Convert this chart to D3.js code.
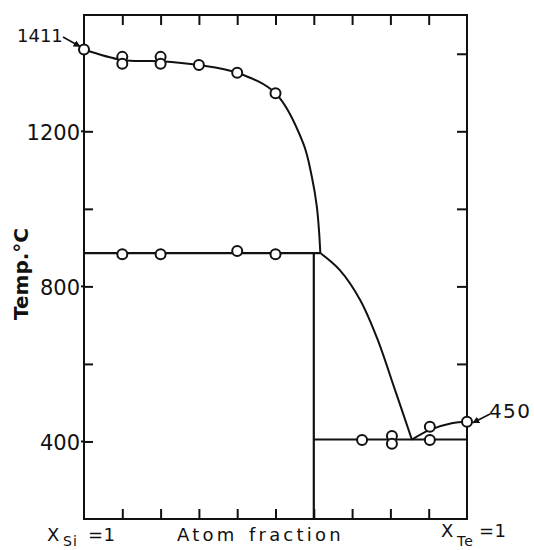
<!DOCTYPE html>
<html>
<head>
<meta charset="utf-8">
<script src="https://cdn.jsdelivr.net/npm/d3@7"></script>
<style>
  html, body { margin: 0; padding: 0; background: #fff; }
  svg { display: block; }
  text { font-family: "DejaVu Sans", sans-serif; fill: #111; }
</style>
</head>
<body>
<svg id="chart" width="534" height="550"></svg>
<script>
// Si–Te phase diagram, x = atom fraction Te, T in °C

// liquidus, Si-rich side (down to the peritectic point)
const siLiquidusX = [0, 0.1, 0.2, 0.3, 0.4, 0.5, 0.572, 0.595, 0.608, 0.614, 0.617];
const siLiquidusT = [1411, 1384, 1381, 1371, 1351, 1298, 1170, 1082, 1005, 938, 886];

// liquidus from the peritectic down to the eutectic
const teLiquidusX = [0.617, 0.668, 0.721, 0.765, 0.812, 0.856];
const teLiquidusT = [886, 842, 765, 667, 533, 405];

// Te-rich liquidus
const teRichX = [0.856, 0.903, 0.96, 1.0];
const teRichT = [405, 430, 447, 451];

// invariant lines
const peritecticT = 886;
const peritecticEndX = 0.617;
const eutecticT = 405;
const compoundX = 0.6;

// measured points
const liqPtsX = [0, 0.1, 0.1, 0.2, 0.2, 0.3, 0.4, 0.5];
const liqPtsT = [1411, 1392, 1374, 1392, 1374, 1371, 1351, 1298];
const periPtsX = [0.1, 0.2, 0.4, 0.5];
const periPtsT = [883, 883, 891, 883];
const eutPtsX = [0.726, 0.804, 0.804, 0.903, 0.903, 1.0];
const eutPtsT = [404, 414, 394, 438, 404, 451];

// axis ticks
const xTicks = [0.1, 0.2, 0.3, 0.4, 0.5, 0.6, 0.7, 0.8, 0.9];
const yTicksLeft = [400, 600, 800, 1000, 1200];
const yTicksRight = [600, 800, 1000, 1200, 1400];
const yLabels = [400, 800, 1200];

const svg = d3.select("#chart");
const m = { left: 84, right: 467, top: 15, bottom: 519 };
const ink = "#111";

const x = d3.scaleLinear().domain([0, 1]).range([m.left, m.right]);
const y = d3.scaleLinear().domain([200, 1500]).range([m.bottom, m.top]);

// frame
svg.append("rect")
  .attr("x", m.left).attr("y", m.top)
  .attr("width", m.right - m.left).attr("height", m.bottom - m.top)
  .attr("fill", "none").attr("stroke", ink).attr("stroke-width", 2);

function styleAxis(g) {
  g.select(".domain").remove();
  g.selectAll(".tick line").attr("stroke", ink).attr("stroke-width", 2);
}

// left axis: inward ticks, labels only on 400/800/1200
svg.append("g")
  .attr("transform", `translate(${m.left},0)`)
  .call(d3.axisLeft(y).tickValues(yTicksLeft).tickSize(-9).tickPadding(4)
    .tickFormat(d => yLabels.includes(d) ? d : ""))
  .call(styleAxis)
  .call(g => g.selectAll(".tick text")
    .attr("font-size", 21).attr("fill", ink)
    .attr("font-family", "DejaVu Sans").attr("dy", "0.38em"));

// little outward stubs on the labelled ticks
svg.append("g").selectAll("line").data(yLabels).join("line")
  .attr("x1", m.left - 3).attr("x2", m.left)
  .attr("y1", d => y(d)).attr("y2", d => y(d))
  .attr("stroke", ink).attr("stroke-width", 2);

svg.append("g")
  .attr("transform", `translate(${m.right},0)`)
  .call(d3.axisRight(y).tickValues(yTicksRight).tickSize(-10).tickFormat(""))
  .call(styleAxis);

svg.append("g")
  .attr("transform", `translate(0,${m.top})`)
  .call(d3.axisTop(x).tickValues(xTicks).tickSize(-10).tickFormat(""))
  .call(styleAxis);

svg.append("g")
  .attr("transform", `translate(0,${m.bottom})`)
  .call(d3.axisBottom(x).tickValues(xTicks).tickSize(-10).tickFormat(""))
  .call(styleAxis);

// curves
const curveLine = d3.line()
  .x(d => x(d[0])).y(d => y(d[1]))
  .curve(d3.curveCatmullRom.alpha(0.5));
const straight = d3.line().x(d => x(d[0])).y(d => y(d[1]));

const curves = [
  d3.zip(siLiquidusX, siLiquidusT),
  d3.zip(teLiquidusX, teLiquidusT),
  d3.zip(teRichX, teRichT)
];
svg.append("g").selectAll("path").data(curves).join("path")
  .attr("d", curveLine)
  .attr("fill", "none").attr("stroke", ink).attr("stroke-width", 2);

const invariants = [
  [[0, peritecticT], [peritecticEndX, peritecticT]],
  [[compoundX, peritecticT], [compoundX, 200]],
  [[compoundX, eutecticT], [1, eutecticT]]
];
svg.append("g").selectAll("path").data(invariants).join("path")
  .attr("d", straight)
  .attr("fill", "none").attr("stroke", ink).attr("stroke-width", 2.2);

// data circles
const pts = [
  ...d3.zip(liqPtsX, liqPtsT),
  ...d3.zip(periPtsX, periPtsT),
  ...d3.zip(eutPtsX, eutPtsT)
];
svg.append("g").selectAll("circle").data(pts).join("circle")
  .attr("cx", d => x(d[0])).attr("cy", d => y(d[1]))
  .attr("r", 5)
  .attr("fill", "#fff").attr("stroke", ink).attr("stroke-width", 2);

// arrow marker
svg.append("defs").append("marker")
  .attr("id", "head")
  .attr("viewBox", "0 0 10 10")
  .attr("refX", 9).attr("refY", 5)
  .attr("markerWidth", 7).attr("markerHeight", 7)
  .attr("markerUnits", "userSpaceOnUse")
  .attr("orient", "auto")
  .append("path").attr("d", "M0,0L10,5L0,10z").attr("fill", ink);

// annotations
svg.append("text").attr("x", 17).attr("y", 42)
  .attr("font-size", 18).text("1411");
svg.append("line")
  .attr("x1", 63).attr("y1", 37).attr("x2", x(0) - 4).attr("y2", y(1411) - 3)
  .attr("stroke", ink).attr("stroke-width", 1.6).attr("marker-end", "url(#head)");

svg.append("text").attr("x", 489).attr("y", 418)
  .attr("font-size", 20).attr("letter-spacing", 1.4).text("450");
svg.append("line")
  .attr("x1", 490).attr("y1", 414).attr("x2", x(1) + 6).attr("y2", y(451) + 1)
  .attr("stroke", ink).attr("stroke-width", 1.6).attr("marker-end", "url(#head)");

// axis title
svg.append("text")
  .attr("transform", "translate(28,274) rotate(-90)")
  .attr("text-anchor", "middle")
  .attr("font-size", 20).attr("font-weight", "bold")
  .text("Temp.°C");

// bottom labels (lettering is evenly spaced, so a mono face)
const lab = svg.append("g")
  .attr("font-family", "DejaVu Sans Mono")
  .attr("font-size", 18).attr("letter-spacing", 3.2);
lab.append("text").attr("x", 47).attr("y", 541).text("X");
lab.append("text").attr("x", 63).attr("y", 546).attr("font-size", 14).attr("letter-spacing", 1).text("Si");
lab.append("text").attr("x", 88).attr("y", 541).attr("letter-spacing", 0.5).text("=1");
lab.append("text").attr("x", 177).attr("y", 541).text("Atom");
lab.append("text").attr("x", 249).attr("y", 541).text("fraction");
lab.append("text").attr("x", 441).attr("y", 537).text("X");
lab.append("text").attr("x", 457).attr("y", 546).attr("font-size", 14).attr("letter-spacing", 1).text("Te");
lab.append("text").attr("x", 479).attr("y", 537).attr("letter-spacing", 0.5).text("=1");
</script>
</body>
</html>
